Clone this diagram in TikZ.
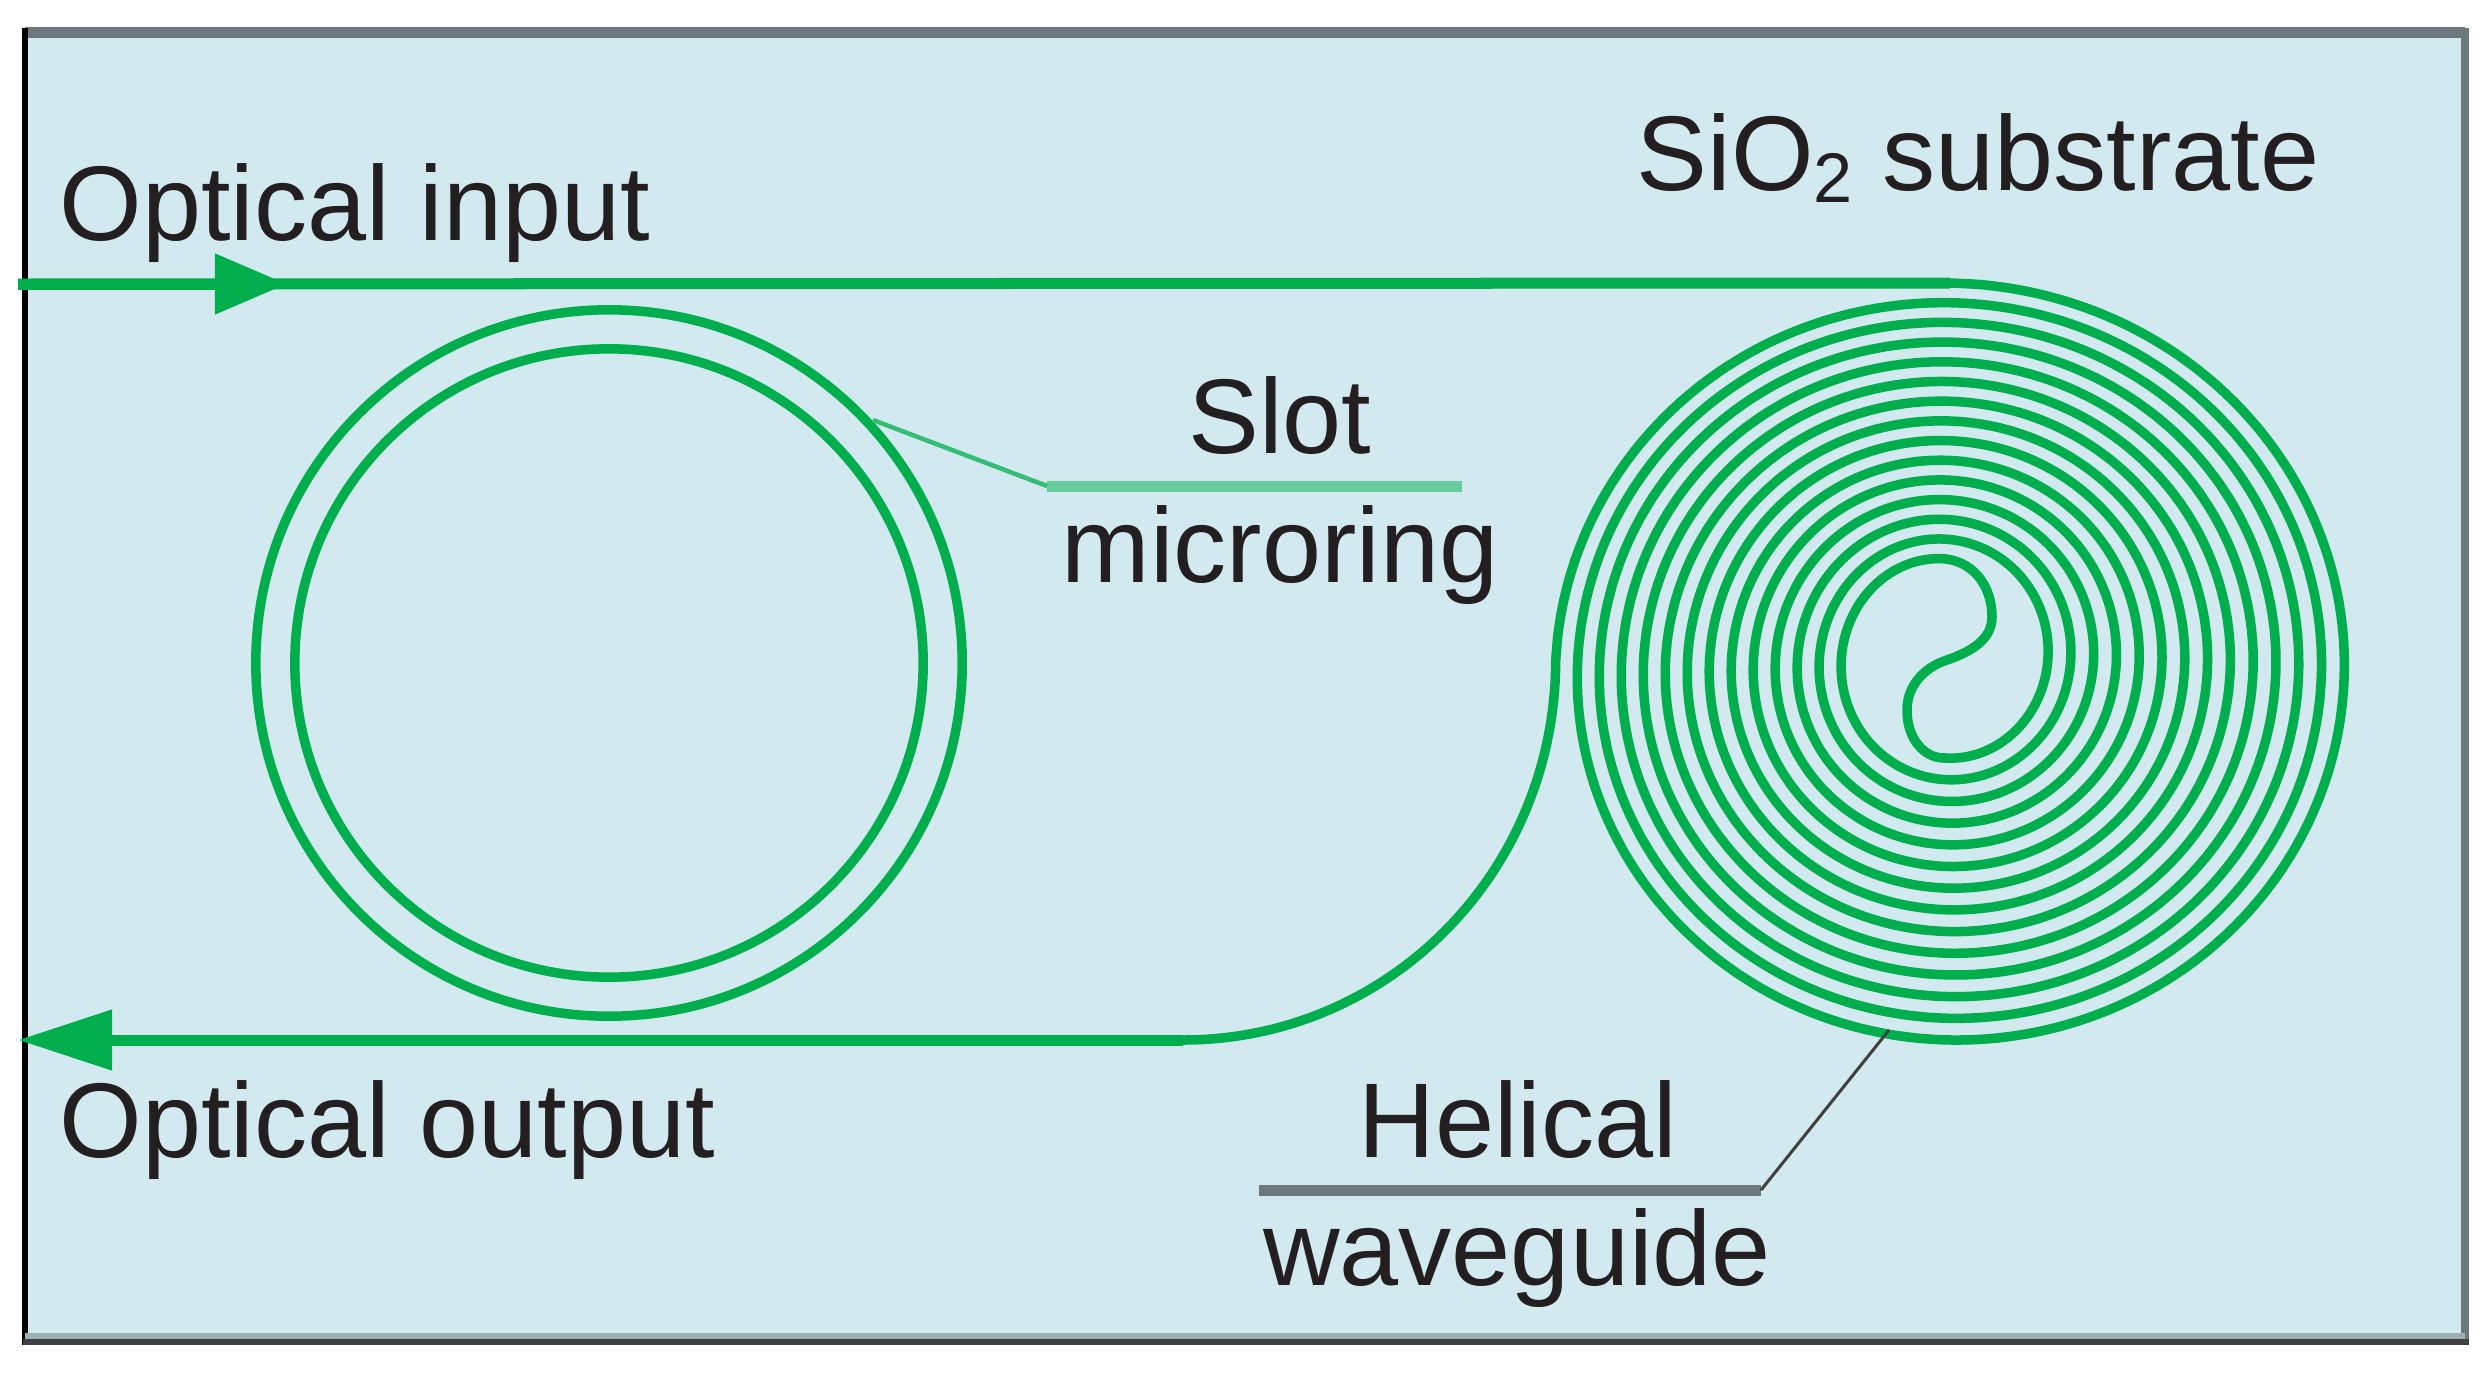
\documentclass[tikz,border=0pt]{standalone}
\usepackage{fontspec}
\setmainfont{Liberation Sans}
\usetikzlibrary{arrows.meta}

\definecolor{substrate}{HTML}{D2E9EF}
\definecolor{guidegreen}{HTML}{00AE4D}
\definecolor{leadergreen}{HTML}{66CC9E}
\definecolor{framegrey}{HTML}{6D787C}
\definecolor{framelight}{HTML}{9FB0B5}
\definecolor{framedark}{HTML}{404040}
\definecolor{inkblack}{HTML}{231F20}

% Double spiral: #1 is the line index, #2 the angle.
\newcommand{\helixx}[2]{1950.4-0.4*(#1)+(428.1-22.4*(#1))*sin(#2)}
\newcommand{\helixy}[2]{673.35-(#1)-(410.05-20.7*(#1))*cos(#2)}

\tikzset{
	guide/.style={draw=guidegreen, line width=0.095cm},
	bus/.style={draw=guidegreen, line width=0.11cm},
	ring/.style={circle, guide, inner sep=0pt, outer sep=0pt},
	textlabel/.style={inner sep=0pt, text=inkblack, font=\fontsize{30.2}{36}\selectfont},
}

\begin{document}
\begin{tikzpicture}[x=0.01cm, y=-0.01cm]

	\useasboundingbox (0,0) rectangle (2490,1381);

	% Substrate.
	\fill[substrate] (25,32) rectangle (2465,1339);
	\draw[framegrey, line width=0.11cm] (25,32) -- (2465,32);
	\draw[framegrey, line width=0.08cm] (2465,28) -- (2465,1345);
	\draw[black, line width=0.05cm] (25,28) -- (25,1345);
	\draw[framelight, line width=0.06cm] (25,1336) -- (2465,1336);
	\draw[framedark, line width=0.06cm] (23,1342) -- (2469,1342);

	% Node definitions.
	\node[ring, minimum size=7.06cm] (ring_outer) at (609,663) {};
	\node[ring, minimum size=6.28cm] (ring_inner) at (609,663) {};

	\coordinate (input_start) at (18,284);
	\coordinate   (input_tip) at (287,284);
	\coordinate   (helix_top) at (1950,283);
	\coordinate    (bend_end) at (1183,1040);
	\coordinate  (output_tip) at (18,1040);

	\coordinate   (slot_knee) at (1047,486);
	\coordinate    (slot_end) at (1462,486);
	\coordinate (slot_target) at (873,420);
	\coordinate   (helix_knee) at (1761,1190);
	\coordinate    (helix_end) at (1259,1190);
	\coordinate (helix_target) at (1889,1030);

	% Labels.
	\node[textlabel, anchor=base west] (input_label) at (59,240) {Optical input};
	\node[textlabel, anchor=base west] (output_label) at (59,1157) {Optical output};
	\node[textlabel, anchor=base west] (substrate_label) at (1636,190)
		{SiO{\fontsize{20}{24}\selectfont\raisebox{-0.12cm}{2}} substrate};
	\node[textlabel, anchor=base] (slot_label) at (1280,453) {Slot};
	\node[textlabel, anchor=base] (microring_label) at (1280,582) {microring};
	\node[textlabel, anchor=base] (helical_label) at (1518,1157) {Helical};
	\node[textlabel, anchor=base] (waveguide_label) at (1517,1285) {waveguide};

	% Helical waveguide.
	\draw[guide] plot[domain=0:7, samples=600, variable=\t, smooth]
			({\helixx{1+2*\t}{360*\t}},{\helixy{1+2*\t}{360*\t}})
		.. controls (1972,559) and (1992,585) .. (1992,617)
		.. controls (1992,640) and (1970,652) .. (1947,660)
		.. controls (1925,667) and (1907,685) .. (1907,710)
		.. controls (1907,740) and (1925,758) .. (1944,758)
		-- plot[domain=6.75:0, samples=600, variable=\t, smooth]
			({\helixx{1.5+2*\t}{360*\t-90}},{\helixy{1.5+2*\t}{360*\t-90}})
		.. controls (1555,873) and (1388,1040) .. (bend_end);

	% Arrows.
	\draw[bus] (input_start) -- (helix_top);
	\draw[bus, -{Triangle[length=0.72cm, width=0.58cm]}] (input_start) -- (input_tip);
	\draw[bus, -{Triangle[length=0.94cm, width=0.58cm]}] (bend_end) -- (output_tip);

	% Leaders.
	\draw[leadergreen, line width=0.11cm] (slot_knee) -- (slot_end);
	\draw[guidegreen!75!substrate, line width=0.045cm] (slot_target) -- (slot_knee);
	\draw[framegrey, line width=0.11cm] (helix_end) -- (helix_knee);
	\draw[framedark, line width=0.03cm] (helix_target) -- (helix_knee);

\end{tikzpicture}
\end{document}
